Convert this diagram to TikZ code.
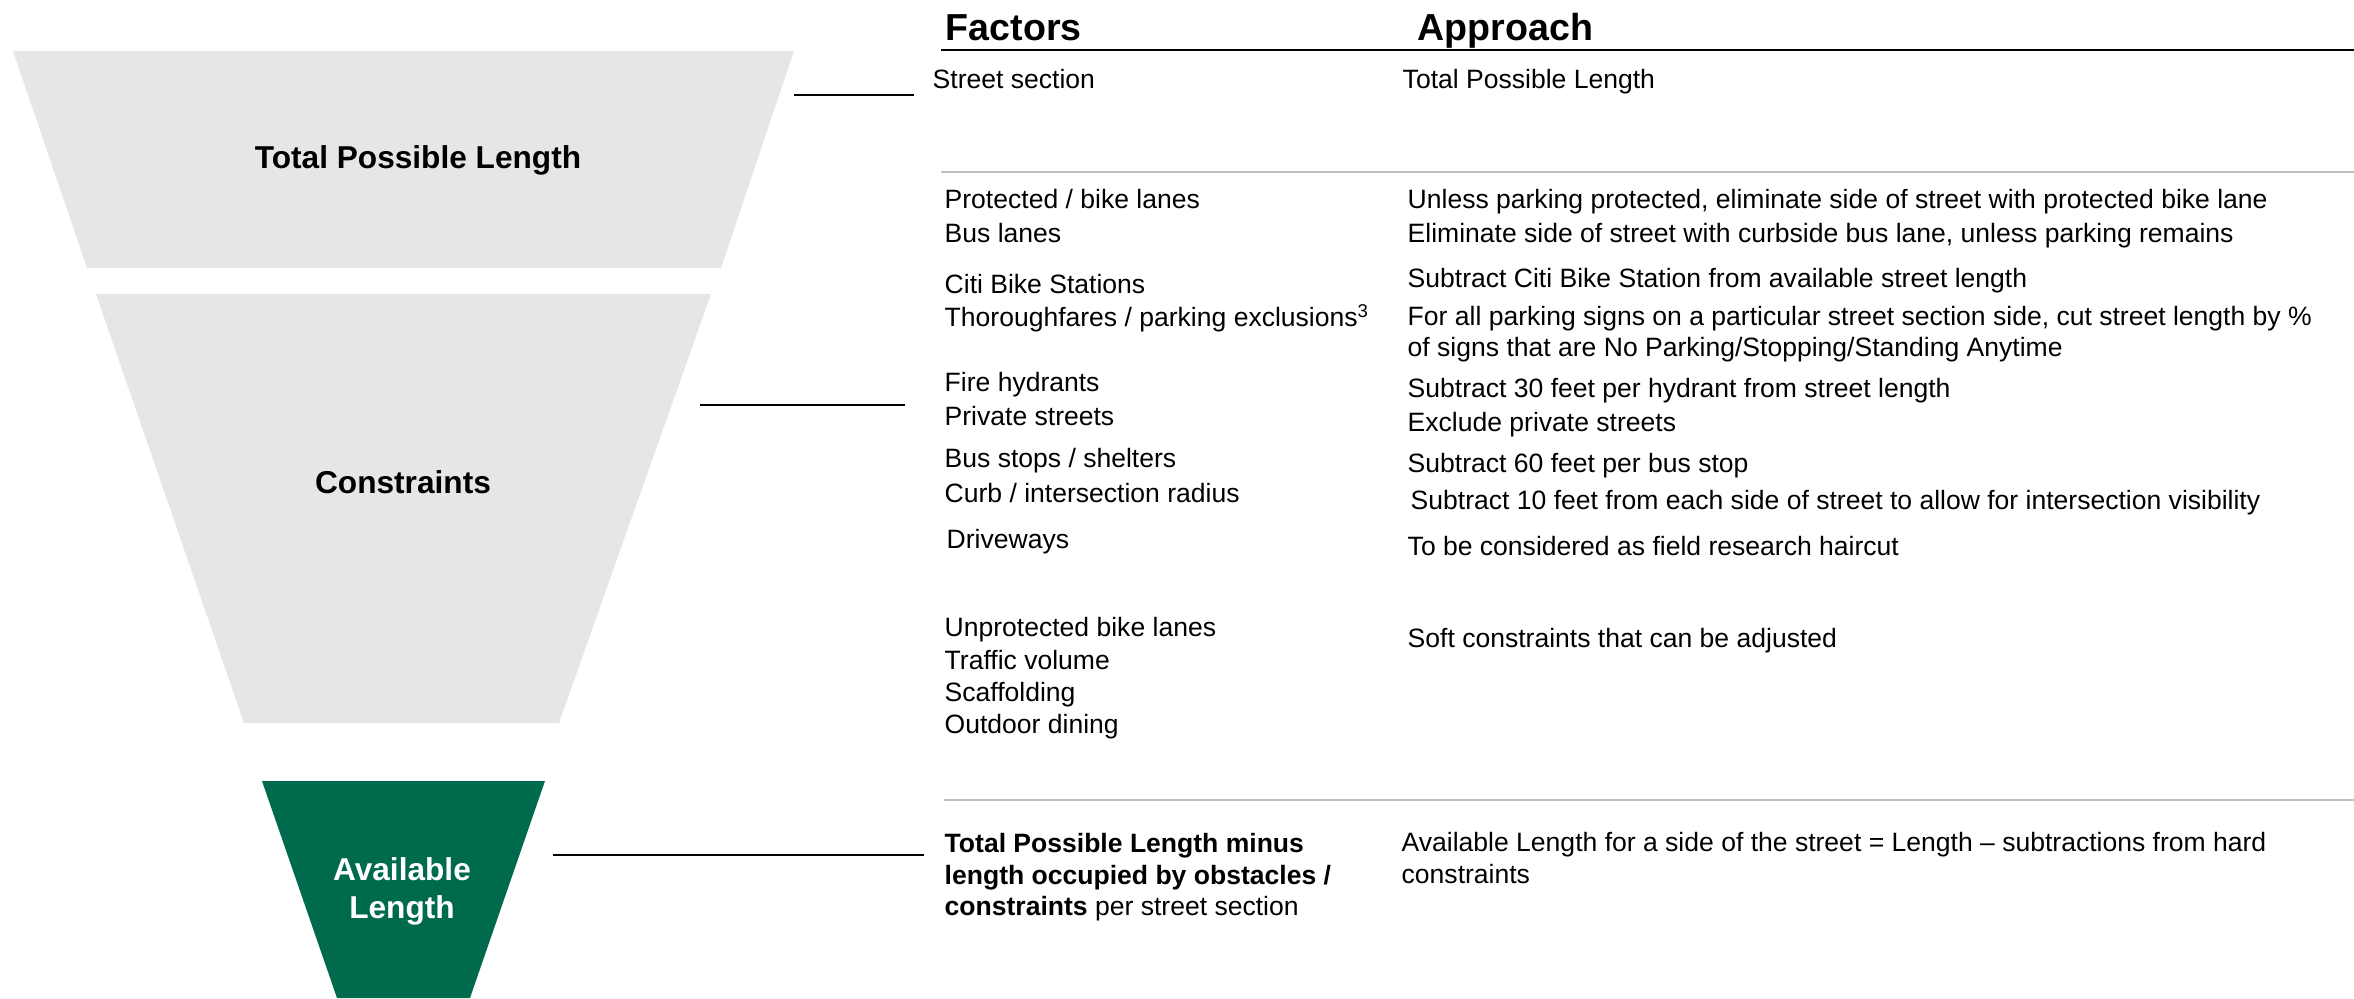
\documentclass[tikz,border=0pt]{standalone}
\usepackage{fontspec}
\setmainfont{Liberation Sans}
\definecolor{funnelgray}{HTML}{E6E6E6}
\definecolor{funnelgreen}{HTML}{006A4D}
\definecolor{rulegray}{HTML}{BFBFBF}

\tikzset{
  fact/.style={anchor=base west, inner sep=0pt, align=left, font=\fontsize{7.55}{9.1}\selectfont},
  hdr/.style={anchor=base west, inner sep=0pt, font=\fontsize{10.7}{12}\selectfont\bfseries},
  stage/.style={inner sep=0pt, align=center, font=\fontsize{9}{10.8}\selectfont\bfseries},
  link/.style={black, line width=0.6pt},
}

\begin{document}
\begin{tikzpicture}
\useasboundingbox (0,0) rectangle (23.54,9.98);

% =========== Funnel ===========
\fill[funnelgray] (0.13,9.47) -- (7.94,9.47) -- (7.21,7.30) -- (0.87,7.30) -- cycle;
\node[stage] (tpl) at (4.18,8.38) {Total Possible Length};

\fill[funnelgray] (0.96,7.04) -- (7.11,7.04) -- (5.59,2.75) -- (2.44,2.75) -- cycle;
\node[stage] (cons) at (4.03,5.16) {Constraints};

\fill[funnelgreen] (2.62,2.17) -- (5.45,2.17) -- (4.70,0) -- (3.37,0) -- cycle;
\node[stage, text=white] (avail) at (4.02,1.07) {Available\\Length};

% =========== Headers and rules ===========
\node[hdr] (factors) at (9.45,9.57) {Factors};
\node[hdr] (approach) at (14.17,9.57) {Approach};
\draw[black, line width=0.6pt] (9.41,9.48) -- (23.54,9.48);
\draw[rulegray, line width=0.6pt] (9.41,8.26) -- (23.54,8.26);
\draw[rulegray, line width=0.6pt] (9.44,1.98) -- (23.54,1.98);

% =========== Street section ===========
\node[fact] (street) at (9.32,9.09) {Street section};
\node[fact] (streetap) at (14.02,9.09) {Total Possible Length};

% =========== Hard constraints ===========
\node[fact] (prot) at (9.44,7.89) {Protected / bike lanes};
\node[fact] (protap) at (14.07,7.89) {Unless parking protected, eliminate side of street with protected bike lane};
\node[fact] (bus) at (9.44,7.55) {Bus lanes};
\node[fact] (busap) at (14.07,7.55) {Eliminate side of street with curbside bus lane, unless parking remains};
\node[fact] (citi) at (9.44,7.04) {Citi Bike Stations};
\node[fact] (citiap) at (14.07,7.10) {Subtract Citi Bike Station from available street length};
\node[fact] (thor) at (9.44,6.71) {Thoroughfares / parking exclusions\textsuperscript{3}};
% multi-line nodes: base is the last line
\node[fact] (thorap) at (14.07,6.41) {For all parking signs on a particular street section side, cut street length by \%\\of signs that are No Parking/Stopping/Standing Anytime};
\node[fact] (fire) at (9.44,6.06) {Fire hydrants};
\node[fact] (fireap) at (14.07,6.00) {Subtract 30 feet per hydrant from street length};
\node[fact] (priv) at (9.44,5.72) {Private streets};
\node[fact] (privap) at (14.07,5.66) {Exclude private streets};
\node[fact] (stop) at (9.44,5.31) {Bus stops / shelters};
\node[fact] (stopap) at (14.07,5.25) {Subtract 60 feet per bus stop};
\node[fact] (curb) at (9.44,4.95) {Curb / intersection radius};
\node[fact] (curbap) at (14.10,4.88) {Subtract 10 feet from each side of street to allow for intersection visibility};
\node[fact] (drive) at (9.46,4.49) {Driveways};
\node[fact] (driveap) at (14.07,4.43) {To be considered as field research haircut};

% =========== Soft constraints ===========
\node[fact, font=\fontsize{7.55}{9.2}\selectfont] (soft) at (9.44,2.64)
  {Unprotected bike lanes\\Traffic volume\\Scaffolding\\Outdoor dining};
\node[fact] (softap) at (14.07,3.51) {Soft constraints that can be adjusted};

% =========== Available length ===========
\node[fact] (result) at (9.44,0.82)
  {\textbf{Total Possible Length minus}\\\textbf{length occupied by obstacles /}\\\textbf{constraints} per street section};
\node[fact] (resultap) at (14.01,1.15)
  {Available Length for a side of the street = Length – subtractions from hard\\constraints};

% =========== Links ===========
\coordinate (l1a) at (7.94,9.03);
\coordinate (l1b) at (9.14,9.03);
\coordinate (l2a) at (7.00,5.93);
\coordinate (l2b) at (9.05,5.93);
\coordinate (l3a) at (5.53,1.43);
\coordinate (l3b) at (9.24,1.43);
\draw[link] (l1a) -- (l1b);
\draw[link] (l2a) -- (l2b);
\draw[link] (l3a) -- (l3b);

\end{tikzpicture}
\end{document}
